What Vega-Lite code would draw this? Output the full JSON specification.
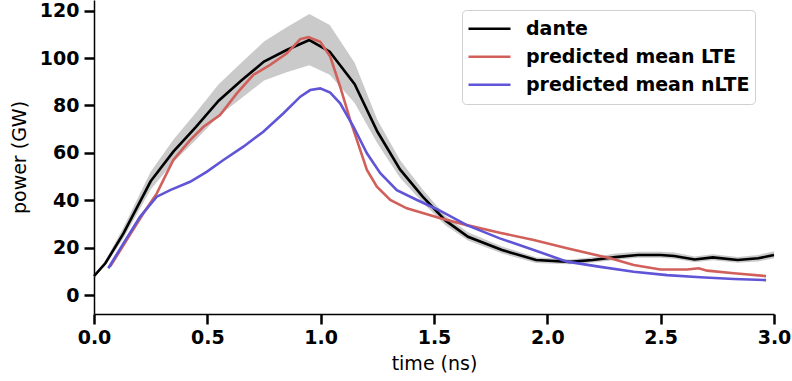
{
  "$schema": "https://vega.github.io/schema/vega-lite/v6.json",
  "width": 680,
  "height": 314,
  "autosize": {"type": "none"},
  "padding": {"left": 94, "top": 0, "right": 18, "bottom": 67},
  "background": "white",
  "config": {
    "view": {"stroke": null},
    "font": "DejaVu Sans",
    "axis": {
      "grid": false,
      "labelFlush": false,
      "domainColor": "black",
      "domainWidth": 1.5,
      "tickColor": "black",
      "tickWidth": 2.5,
      "tickSize": 10,
      "labelFont": "DejaVu Sans",
      "labelFontWeight": "bold",
      "labelFontSize": 19,
      "labelColor": "black",
      "titleFont": "DejaVu Sans",
      "titleFontWeight": "normal",
      "titleFontSize": 19,
      "titleColor": "black"
    }
  },
  "datasets": {
    "dante": [
      {"t": 0.0, "P": 8.0, "lo": 7.5, "hi": 8.5},
      {"t": 0.05, "P": 13.4, "lo": 12.5, "hi": 14.5},
      {"t": 0.13, "P": 26.0, "lo": 24.0, "hi": 28.5},
      {"t": 0.25, "P": 48.0, "lo": 44.5, "hi": 52.0},
      {"t": 0.35, "P": 60.5, "lo": 56.0, "hi": 65.5},
      {"t": 0.45, "P": 71.0, "lo": 65.5, "hi": 77.0},
      {"t": 0.55, "P": 82.0, "lo": 75.5, "hi": 89.0},
      {"t": 0.65, "P": 90.5, "lo": 83.0, "hi": 98.0},
      {"t": 0.75, "P": 98.5, "lo": 90.5, "hi": 107.0},
      {"t": 0.85, "P": 103.4, "lo": 94.0, "hi": 113.0},
      {"t": 0.95, "P": 107.6, "lo": 97.0, "hi": 118.6},
      {"t": 1.04, "P": 102.7, "lo": 93.0, "hi": 114.0},
      {"t": 1.15, "P": 89.0, "lo": 81.0, "hi": 98.0},
      {"t": 1.25, "P": 69.0, "lo": 64.0, "hi": 74.0},
      {"t": 1.35, "P": 53.0, "lo": 49.5, "hi": 57.0},
      {"t": 1.45, "P": 41.5, "lo": 39.0, "hi": 44.5},
      {"t": 1.55, "P": 31.5, "lo": 29.5, "hi": 33.5},
      {"t": 1.65, "P": 24.6, "lo": 23.0, "hi": 26.5},
      {"t": 1.8, "P": 19.0, "lo": 17.5, "hi": 20.5},
      {"t": 1.95, "P": 14.8, "lo": 13.5, "hi": 16.0},
      {"t": 2.1, "P": 14.0, "lo": 13.0, "hi": 15.0},
      {"t": 2.2, "P": 14.8, "lo": 13.7, "hi": 16.0},
      {"t": 2.3, "P": 16.0, "lo": 14.8, "hi": 17.5},
      {"t": 2.4, "P": 16.9, "lo": 15.7, "hi": 18.3},
      {"t": 2.5, "P": 16.9, "lo": 15.7, "hi": 18.3},
      {"t": 2.56, "P": 16.5, "lo": 15.3, "hi": 17.9},
      {"t": 2.65, "P": 15.0, "lo": 13.8, "hi": 16.3},
      {"t": 2.73, "P": 15.9, "lo": 14.7, "hi": 17.2},
      {"t": 2.84, "P": 14.8, "lo": 13.6, "hi": 16.1},
      {"t": 2.93, "P": 15.5, "lo": 14.2, "hi": 16.9},
      {"t": 3.0, "P": 16.9, "lo": 15.5, "hi": 18.5}
    ],
    "lines": [
      {"series": "dante", "t": 0.0, "P": 8.0},
      {"series": "dante", "t": 0.05, "P": 13.4},
      {"series": "dante", "t": 0.13, "P": 26.0},
      {"series": "dante", "t": 0.25, "P": 48.0},
      {"series": "dante", "t": 0.35, "P": 60.5},
      {"series": "dante", "t": 0.45, "P": 71.0},
      {"series": "dante", "t": 0.55, "P": 82.0},
      {"series": "dante", "t": 0.65, "P": 90.5},
      {"series": "dante", "t": 0.75, "P": 98.5},
      {"series": "dante", "t": 0.85, "P": 103.4},
      {"series": "dante", "t": 0.95, "P": 107.6},
      {"series": "dante", "t": 1.04, "P": 102.7},
      {"series": "dante", "t": 1.15, "P": 89.0},
      {"series": "dante", "t": 1.25, "P": 69.0},
      {"series": "dante", "t": 1.35, "P": 53.0},
      {"series": "dante", "t": 1.45, "P": 41.5},
      {"series": "dante", "t": 1.55, "P": 31.5},
      {"series": "dante", "t": 1.65, "P": 24.6},
      {"series": "dante", "t": 1.8, "P": 19.0},
      {"series": "dante", "t": 1.95, "P": 14.8},
      {"series": "dante", "t": 2.1, "P": 14.0},
      {"series": "dante", "t": 2.2, "P": 14.8},
      {"series": "dante", "t": 2.3, "P": 16.0},
      {"series": "dante", "t": 2.4, "P": 16.9},
      {"series": "dante", "t": 2.5, "P": 16.9},
      {"series": "dante", "t": 2.56, "P": 16.5},
      {"series": "dante", "t": 2.65, "P": 15.0},
      {"series": "dante", "t": 2.73, "P": 15.9},
      {"series": "dante", "t": 2.84, "P": 14.8},
      {"series": "dante", "t": 2.93, "P": 15.5},
      {"series": "dante", "t": 3.0, "P": 16.9},
      {"series": "predicted mean LTE", "t": 0.071, "P": 12.0},
      {"series": "predicted mean LTE", "t": 0.144, "P": 23.2},
      {"series": "predicted mean LTE", "t": 0.218, "P": 34.5},
      {"series": "predicted mean LTE", "t": 0.277, "P": 42.9},
      {"series": "predicted mean LTE", "t": 0.35, "P": 57.0},
      {"series": "predicted mean LTE", "t": 0.424, "P": 65.4},
      {"series": "predicted mean LTE", "t": 0.483, "P": 71.0},
      {"series": "predicted mean LTE", "t": 0.556, "P": 76.0},
      {"series": "predicted mean LTE", "t": 0.63, "P": 85.1},
      {"series": "predicted mean LTE", "t": 0.703, "P": 92.9},
      {"series": "predicted mean LTE", "t": 0.777, "P": 97.1},
      {"series": "predicted mean LTE", "t": 0.851, "P": 102.0},
      {"series": "predicted mean LTE", "t": 0.91, "P": 108.0},
      {"series": "predicted mean LTE", "t": 0.946, "P": 108.8},
      {"series": "predicted mean LTE", "t": 0.998, "P": 106.9},
      {"series": "predicted mean LTE", "t": 1.042, "P": 100.6},
      {"series": "predicted mean LTE", "t": 1.086, "P": 87.9},
      {"series": "predicted mean LTE", "t": 1.13, "P": 73.9},
      {"series": "predicted mean LTE", "t": 1.16, "P": 65.4},
      {"series": "predicted mean LTE", "t": 1.204, "P": 52.8},
      {"series": "predicted mean LTE", "t": 1.248, "P": 45.7},
      {"series": "predicted mean LTE", "t": 1.307, "P": 40.1},
      {"series": "predicted mean LTE", "t": 1.38, "P": 36.6},
      {"series": "predicted mean LTE", "t": 1.454, "P": 34.5},
      {"series": "predicted mean LTE", "t": 1.528, "P": 32.4},
      {"series": "predicted mean LTE", "t": 1.645, "P": 29.5},
      {"series": "predicted mean LTE", "t": 1.79, "P": 26.3},
      {"series": "predicted mean LTE", "t": 1.94, "P": 23.2},
      {"series": "predicted mean LTE", "t": 2.087, "P": 19.7},
      {"series": "predicted mean LTE", "t": 2.278, "P": 15.5},
      {"series": "predicted mean LTE", "t": 2.381, "P": 12.7},
      {"series": "predicted mean LTE", "t": 2.499, "P": 10.8},
      {"series": "predicted mean LTE", "t": 2.617, "P": 10.8},
      {"series": "predicted mean LTE", "t": 2.668, "P": 11.3},
      {"series": "predicted mean LTE", "t": 2.705, "P": 10.3},
      {"series": "predicted mean LTE", "t": 2.823, "P": 9.2},
      {"series": "predicted mean LTE", "t": 2.965, "P": 8.0},
      {"series": "predicted mean nLTE", "t": 0.063, "P": 11.3},
      {"series": "predicted mean nLTE", "t": 0.13, "P": 21.8},
      {"series": "predicted mean nLTE", "t": 0.203, "P": 33.0},
      {"series": "predicted mean nLTE", "t": 0.277, "P": 41.5},
      {"series": "predicted mean nLTE", "t": 0.336, "P": 44.3},
      {"series": "predicted mean nLTE", "t": 0.424, "P": 47.8},
      {"series": "predicted mean nLTE", "t": 0.497, "P": 52.0},
      {"series": "predicted mean nLTE", "t": 0.571, "P": 57.0},
      {"series": "predicted mean nLTE", "t": 0.659, "P": 62.6},
      {"series": "predicted mean nLTE", "t": 0.747, "P": 68.9},
      {"series": "predicted mean nLTE", "t": 0.836, "P": 76.7},
      {"series": "predicted mean nLTE", "t": 0.91, "P": 83.7},
      {"series": "predicted mean nLTE", "t": 0.954, "P": 86.5},
      {"series": "predicted mean nLTE", "t": 0.998, "P": 87.2},
      {"series": "predicted mean nLTE", "t": 1.042, "P": 85.4},
      {"series": "predicted mean nLTE", "t": 1.086, "P": 80.9},
      {"series": "predicted mean nLTE", "t": 1.145, "P": 71.0},
      {"series": "predicted mean nLTE", "t": 1.204, "P": 59.8},
      {"series": "predicted mean nLTE", "t": 1.263, "P": 51.4},
      {"series": "predicted mean nLTE", "t": 1.336, "P": 44.3},
      {"series": "predicted mean nLTE", "t": 1.425, "P": 40.1},
      {"series": "predicted mean nLTE", "t": 1.52, "P": 35.9},
      {"series": "predicted mean nLTE", "t": 1.645, "P": 29.5},
      {"series": "predicted mean nLTE", "t": 1.79, "P": 23.9},
      {"series": "predicted mean nLTE", "t": 1.94, "P": 19.0},
      {"series": "predicted mean nLTE", "t": 2.087, "P": 14.1},
      {"series": "predicted mean nLTE", "t": 2.234, "P": 11.9},
      {"series": "predicted mean nLTE", "t": 2.381, "P": 9.8},
      {"series": "predicted mean nLTE", "t": 2.528, "P": 8.4},
      {"series": "predicted mean nLTE", "t": 2.675, "P": 7.5},
      {"series": "predicted mean nLTE", "t": 2.823, "P": 6.8},
      {"series": "predicted mean nLTE", "t": 2.965, "P": 6.3}
    ]
  },
  "layer": [
    {
      "data": {"name": "dante"},
      "mark": {"type": "area", "color": "#bdbdbd", "opacity": 0.8},
      "encoding": {
        "x": {"field": "t", "type": "quantitative", "scale": {"domain": [0, 3.0], "nice": false}, "axis": {"title": "time (ns)", "values": [0, 0.5, 1, 1.5, 2, 2.5, 3], "format": ".1f", "labelPadding": 4, "titlePadding": 7}},
        "y": {"field": "lo", "type": "quantitative", "scale": {"domain": [-8, 124.5], "nice": false, "zero": false}, "axis": {"title": "power (GW)", "values": [0, 20, 40, 60, 80, 100, 120], "labelPadding": 5, "titlePadding": 10}},
        "y2": {"field": "hi"}
      }
    },
    {
      "data": {"name": "lines"},
      "mark": {"type": "line", "strokeWidth": 2.6},
      "encoding": {
        "x": {"field": "t", "type": "quantitative"},
        "y": {"field": "P", "type": "quantitative"},
        "color": {
          "field": "series",
          "type": "nominal",
          "scale": {"domain": ["dante", "predicted mean LTE", "predicted mean nLTE"], "range": ["#000000", "#d1605b", "#5f55d6"]},
          "legend": {
            "title": null,
            "orient": "none",
            "legendX": 368,
            "legendY": 10,
            "symbolType": "stroke",
            "symbolSize": 1764,
            "symbolStrokeWidth": 2.6,
            "clipHeight": 27.5,
            "labelFont": "DejaVu Sans",
            "labelFontWeight": "bold",
            "labelFontSize": 19,
            "labelColor": "black",
            "labelLimit": 400,
            "labelOffset": 14,
            "rowPadding": 0,
            "padding": 5,
            "strokeColor": "#d0d0d0",
            "fillColor": "white",
            "cornerRadius": 4
          }
        }
      }
    }
  ]
}
